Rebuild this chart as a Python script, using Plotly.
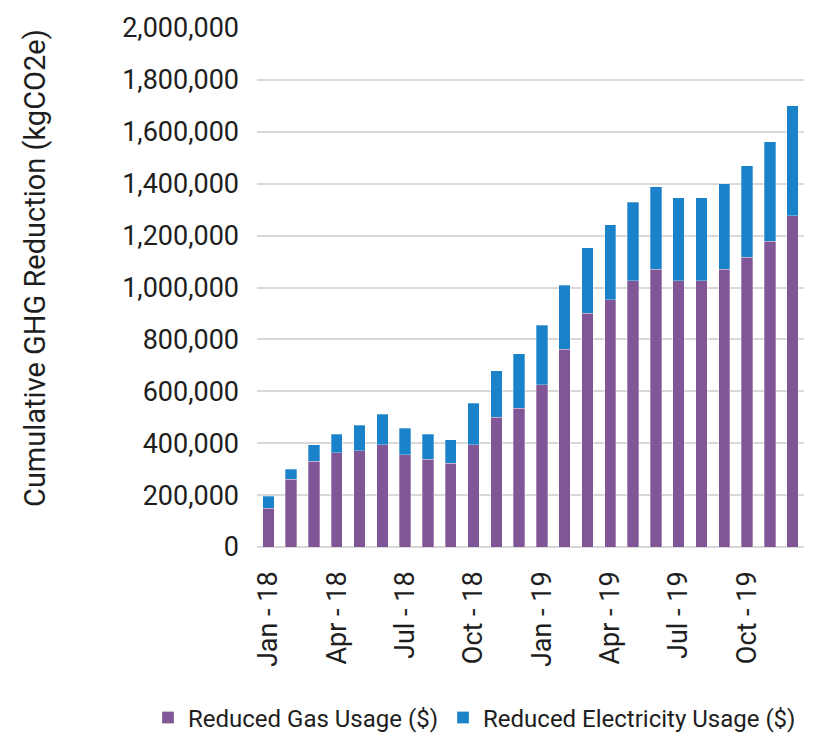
import plotly.graph_objects as go

months = ["Jan - 18", "Feb - 18", "Mar - 18", "Apr - 18", "May - 18", "Jun - 18",
          "Jul - 18", "Aug - 18", "Sep - 18", "Oct - 18", "Nov - 18", "Dec - 18",
          "Jan - 19", "Feb - 19", "Mar - 19", "Apr - 19", "May - 19", "Jun - 19",
          "Jul - 19", "Aug - 19", "Sep - 19", "Oct - 19", "Nov - 19", "Dec - 19"]

gas = [150000, 261000, 331000, 363000, 371000, 395000, 355000, 338000, 323000, 395000,
       500000, 534000, 626000, 763000, 901000, 952000, 1026000, 1071000, 1026000, 1026000,
       1071000, 1117000, 1179000, 1276000]

electricity = [45000, 39000, 64000, 72000, 98000, 116000, 102000, 97000, 91000, 159000,
               179000, 211000, 228000, 246000, 253000, 290000, 303000, 318000, 320000, 320000,
               328000, 353000, 383000, 424000]

tick_labels = ["Jan - 18", "Apr - 18", "Jul - 18", "Oct - 18",
               "Jan - 19", "Apr - 19", "Jul - 19", "Oct - 19"]
y_ticks = [0, 200000, 400000, 600000, 800000, 1000000, 1200000, 1400000, 1600000, 1800000, 2000000]

PURPLE = "#805696"
BLUE = "#1A82C8"
FONT = "Roboto"
TXT = "#1E1E1E"

fig = go.Figure()
fig.add_trace(go.Bar(x=months, y=gas, name="Reduced Gas Usage ($)",
                     marker=dict(color=PURPLE, line=dict(color="rgba(255,255,255,0.6)", width=0.5))))
fig.add_trace(go.Bar(x=months, y=electricity, name="Reduced Electricity Usage ($)",
                     marker=dict(color=BLUE, line=dict(color="rgba(255,255,255,0.6)", width=0.5))))

fig.update_layout(
    barmode="stack",
    bargap=0.5,
    width=814, height=734,
    margin=dict(l=249, r=18, t=20, b=195, autoexpand=False),
    paper_bgcolor="white", plot_bgcolor="white",
    font=dict(family=FONT, color=TXT),
    legend=dict(orientation="h", x=(140 - 249) / 547, xanchor="left",
                y=(539 - 710) / 519, yanchor="middle",
                font=dict(size=24, family=FONT, color=TXT), bgcolor="rgba(0,0,0,0)",
                traceorder="normal"),
    xaxis=dict(type="category", tickmode="array", tickvals=tick_labels, ticktext=tick_labels,
               tickangle=-90, tickfont=dict(size=27, family=FONT, color=TXT),
               showgrid=False, showline=False, ticks="", ticklabelstandoff=18,
               automargin=False),
    yaxis=dict(range=[0, 2000000], tickmode="array", tickvals=y_ticks,
               tickformat=",d", tickfont=dict(size=27, family=FONT, color=TXT),
               showgrid=True, gridcolor="#D9D9D9", gridwidth=1.5,
               zeroline=True, zerolinecolor="#D9D9D9", zerolinewidth=1.5,
               ticklabelstandoff=17, automargin=False),
    annotations=[dict(text="Cumulative GHG Reduction (kgCO2e)", xref="paper", yref="paper",
                      x=(27 - 249) / 547, y=(539 - 260) / 519, xanchor="center", yanchor="middle",
                      textangle=-90, showarrow=False,
                      font=dict(size=29, family=FONT, color=TXT))],
)

fig.write_html("out.html")
